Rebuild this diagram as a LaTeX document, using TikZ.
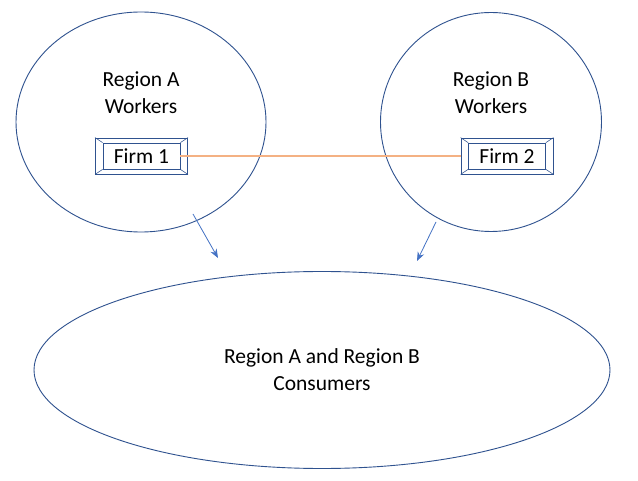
\documentclass[tikz,border=0pt]{standalone}
\usepackage{fontspec}
\setmainfont{Carlito}
\usetikzlibrary{calc,arrows,arrows.meta,shapes.geometric}
\usepackage{xcolor}
\definecolor{outline}{HTML}{2F528F}
\definecolor{arrowblue}{HTML}{4472C4}
\definecolor{firmlink}{HTML}{F4B183}

\tikzset{
	region/.style={ellipse, draw=outline, line width=0.9pt, inner sep=0pt},
	firm/.style={draw=outline, line width=0.8pt, minimum width=77pt, minimum height=26pt, inner sep=0pt},
	bevel/.style={draw=outline, line width=0.8pt, minimum width=92pt, minimum height=36pt, inner sep=0pt},
	flow/.style={-{Stealth[length=9pt, width=7pt]}, arrowblue, line width=0.8pt},
}

% firm box with a bevelled frame
\newcommand{\firmbox}[3]{
	\node[bevel] (#1o) at (#2) {};
	\node[firm] (#1) at (#2) {#3};
	\foreach \c in {north west, north east, south west, south east}
		\draw[outline, line width=0.6pt] (#1.\c) -- (#1o.\c);
}

\begin{document}
\begin{tikzpicture}[x=1pt, y=-1pt, font=\fontsize{21.5}{27}\selectfont]
			\useasboundingbox[fill=white] (0,0) rectangle (638,481);
			% regions
			\node[region, minimum width=250pt, minimum height=220pt] (rA) at (141,122) {};
			\node[region, minimum width=221pt, minimum height=219pt] (rB) at (491,122) {};
			\node[region, minimum width=576pt, minimum height=197pt] (cons) at (322,370) {};
			\node (tA) at (141,93) [align=center] {Region A\\Workers};
			\node (tB) at (491,93) [align=center] {Region B\\Workers};
			\node (tC) at (322,370) [align=center] {Region A and Region B\\Consumers};
			% firms
			\firmbox{f1}{141.5,156}{Firm 1}
			\firmbox{f2}{507,156}{Firm 2}
			\draw[draw=firmlink, line width=1.2pt] (f1.east) -- (f2o.west);
			% flows to consumers
			\coordinate (aA) at (193,214);
			\coordinate (aB) at (436,222);
			\coordinate (cA) at (218,258);
			\coordinate (cB) at (417,261);
			\draw[flow] (aA) -- (cA);
			\draw[flow] (aB) -- (cB);
\end{tikzpicture}
\end{document}
